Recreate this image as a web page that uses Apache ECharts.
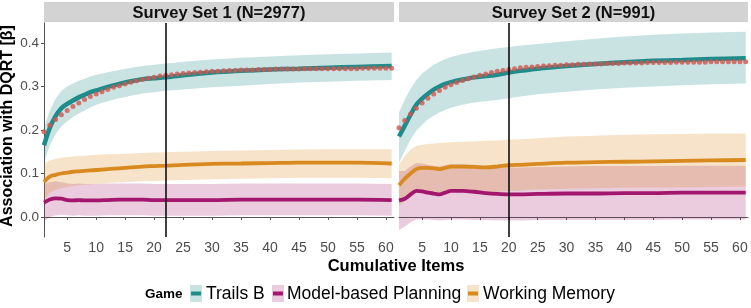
<!DOCTYPE html>
<html><head><meta charset="utf-8">
<script src="https://cdn.jsdelivr.net/npm/echarts@6/dist/echarts.min.js"></script>
<style>html,body{margin:0;padding:0;background:#fff}#c{width:751px;height:308px}</style>
</head><body><div id="c"></div>
<script>
// ---------- data ----------
const panels = ['Survey Set 1 (N=2977)', 'Survey Set 2 (N=991)'];
const cutoffs = [22, 20];
const games = ['Trails B', 'Model-based Planning', 'Working Memory'];
const xTicks = [5, 10, 15, 20, 25, 30, 35, 40, 45, 50, 55, 60];
const yTicks = [0, 0.1, 0.2, 0.3, 0.4];
const knots = [1,2,3,4,5,6,7,8,9,10,12,14,16,18,20,22,25,30,35,40,45,50,55,61];
const items = [1,2,3,4,5,6,7,8,9,10,11,12,13,14,15,16,17,18,19,20,21,22,23,24,25,26,27,28,29,30,
  31,32,33,34,35,36,37,38,39,40,41,42,43,44,45,46,47,48,49,50,51,52,53,54,55,56,57,58,59,60,61];

// Survey Set 1
const trails1     = [0.165,0.205,0.232,0.250,0.260,0.268,0.275,0.281,0.287,0.291,0.299,0.306,0.312,0.317,0.319,0.321,0.326,0.332,0.336,0.339,0.341,0.343,0.345,0.347];
const trails1Lo   = [0.125,0.165,0.190,0.208,0.220,0.230,0.238,0.245,0.252,0.258,0.266,0.273,0.279,0.284,0.287,0.290,0.293,0.298,0.302,0.306,0.309,0.311,0.313,0.315];
const trails1Hi   = [0.205,0.245,0.272,0.290,0.300,0.307,0.313,0.318,0.323,0.327,0.333,0.338,0.343,0.347,0.350,0.353,0.357,0.362,0.366,0.369,0.372,0.374,0.376,0.378];
const model1      = [0.033,0.040,0.043,0.042,0.039,0.038,0.039,0.038,0.038,0.038,0.039,0.040,0.040,0.040,0.039,0.039,0.039,0.039,0.040,0.040,0.040,0.040,0.040,0.039];
const model1Lo    = [-0.010,0.000,0.004,0.005,0.004,0.003,0.004,0.003,0.003,0.003,0.004,0.004,0.004,0.004,0.003,0.003,0.003,0.003,0.004,0.004,0.004,0.004,0.004,0.003];
const model1Hi    = [0.076,0.080,0.082,0.080,0.077,0.076,0.077,0.076,0.076,0.076,0.077,0.077,0.077,0.077,0.076,0.076,0.076,0.076,0.077,0.077,0.077,0.077,0.077,0.076];
const memory1     = [0.081,0.093,0.097,0.100,0.102,0.104,0.105,0.106,0.107,0.108,0.110,0.112,0.114,0.116,0.117,0.118,0.120,0.122,0.123,0.124,0.125,0.125,0.125,0.123];
const memory1Lo   = [0.040,0.056,0.062,0.066,0.069,0.071,0.073,0.074,0.075,0.076,0.078,0.080,0.081,0.082,0.083,0.084,0.085,0.087,0.088,0.089,0.090,0.090,0.090,0.089];
const memory1Hi   = [0.122,0.130,0.134,0.136,0.138,0.139,0.140,0.141,0.142,0.143,0.144,0.145,0.146,0.147,0.148,0.149,0.150,0.152,0.153,0.154,0.155,0.156,0.156,0.156];
const dqrt1 = [0.196,0.211,0.224,0.235,0.245,0.254,0.262,0.270,0.277,0.283,0.288,0.293,0.298,0.302,0.306,0.310,0.313,0.316,0.319,0.321,
  0.324,0.326,0.327,0.329,0.330,0.331,0.332,0.333,0.334,0.335,0.335,0.336,0.337,0.337,0.338,0.338,0.338,0.339,0.339,0.339,
  0.340,0.340,0.340,0.340,0.340,0.341,0.341,0.341,0.341,0.341,0.341,0.341,0.341,0.341,0.341,0.342,0.342,0.342,0.342,0.342,0.342];

// Survey Set 2
const trails2     = [0.185,0.210,0.235,0.258,0.272,0.283,0.293,0.300,0.306,0.310,0.316,0.321,0.324,0.327,0.332,0.336,0.341,0.347,0.352,0.356,0.359,0.361,0.363,0.365];
const trails2Lo   = [0.125,0.152,0.178,0.198,0.212,0.224,0.233,0.240,0.246,0.251,0.258,0.263,0.266,0.269,0.273,0.277,0.282,0.288,0.293,0.297,0.300,0.303,0.305,0.307];
const trails2Hi   = [0.240,0.270,0.295,0.315,0.330,0.340,0.350,0.357,0.363,0.368,0.375,0.380,0.384,0.388,0.391,0.394,0.398,0.404,0.410,0.415,0.419,0.422,0.424,0.426];
const model2      = [0.038,0.042,0.052,0.060,0.059,0.056,0.054,0.052,0.056,0.060,0.060,0.058,0.055,0.053,0.052,0.052,0.053,0.054,0.054,0.055,0.055,0.056,0.056,0.056];
const model2Lo    = [-0.030,-0.022,-0.012,-0.006,-0.006,-0.006,-0.007,-0.008,-0.007,-0.006,-0.006,-0.007,-0.007,-0.008,-0.008,-0.008,-0.007,-0.007,-0.007,-0.007,-0.007,-0.006,-0.006,-0.006];
const model2Hi    = [0.106,0.106,0.116,0.124,0.123,0.120,0.118,0.116,0.119,0.122,0.122,0.120,0.117,0.115,0.114,0.114,0.115,0.116,0.117,0.117,0.117,0.118,0.118,0.118];
const memory2     = [0.073,0.088,0.100,0.110,0.113,0.113,0.112,0.110,0.113,0.116,0.116,0.115,0.114,0.116,0.119,0.120,0.122,0.125,0.126,0.127,0.128,0.129,0.130,0.131];
const memory2Lo   = [0.026,0.036,0.045,0.055,0.060,0.058,0.056,0.052,0.055,0.058,0.058,0.057,0.056,0.058,0.060,0.061,0.063,0.065,0.066,0.067,0.068,0.068,0.069,0.070];
const memory2Hi   = [0.120,0.140,0.155,0.163,0.166,0.168,0.169,0.170,0.171,0.172,0.173,0.174,0.175,0.176,0.178,0.179,0.181,0.185,0.187,0.189,0.190,0.191,0.192,0.192];
const dqrt2 = [0.205,0.222,0.237,0.250,0.262,0.273,0.283,0.291,0.298,0.304,0.309,0.314,0.318,0.322,0.326,0.329,0.332,0.335,0.337,0.339,
  0.341,0.343,0.344,0.345,0.346,0.347,0.348,0.349,0.349,0.350,0.350,0.351,0.351,0.352,0.352,0.352,0.353,0.353,0.353,0.354,
  0.354,0.354,0.354,0.355,0.355,0.355,0.355,0.355,0.356,0.356,0.356,0.356,0.356,0.356,0.357,0.357,0.357,0.357,0.357,0.357,0.357];

// ---------- styling ----------
const lineColors = ['#1E8C8A', '#A3166E', '#D98A1F'];
const bandColors = ['rgba(30,140,138,0.24)', 'rgba(163,22,110,0.22)', 'rgba(217,138,31,0.24)'];
const dotColor = '#D4554F';
const FONT = '"Liberation Sans", Arial, Helvetica, sans-serif';

const panelData = [
  { lines: [trails1, model1, memory1], lo: [trails1Lo, model1Lo, memory1Lo], hi: [trails1Hi, model1Hi, memory1Hi], dots: dqrt1 },
  { lines: [trails2, model2, memory2], lo: [trails2Lo, model2Lo, memory2Lo], hi: [trails2Hi, model2Hi, memory2Hi], dots: dqrt2 }
];

const grids = [
  { left: 44, width: 350, top: 23, height: 214 },
  { left: 399, width: 349, top: 23, height: 214 }
];

function bandSeries(p, xs, lo, hi, color) {
  return {
    type: 'custom', xAxisIndex: p, yAxisIndex: p, silent: true, z: 1, clip: true,
    data: xs.map((x, k) => [x, lo[k], hi[k]]),
    encode: { x: 0, y: [1, 2] },
    renderItem: (params, api) => {
      if (params.dataIndex !== 0) return null;
      const top = xs.map((x, k) => api.coord([x, hi[k]]));
      const bot = xs.map((x, k) => api.coord([x, lo[k]])).reverse();
      return { type: 'polygon', shape: { points: top.concat(bot) }, style: { fill: color } };
    }
  };
}

const xAxes = [], yAxes = [], series = [];
panelData.forEach((pd, p) => {
  xAxes.push({
    type: 'value', gridIndex: p, min: 1, max: 61.4,
    axisLine: { show: true, lineStyle: { color: '#555', width: 1 } },
    axisTick: { show: true, length: 3, customValues: xTicks, lineStyle: { color: '#555' } },
    axisLabel: { customValues: xTicks, fontSize: 14, color: '#4d4d4d', margin: 4, fontFamily: FONT },
    splitLine: { show: false }
  });
  yAxes.push({
    type: 'value', gridIndex: p, min: -0.046, max: 0.446,
    axisLine: { show: p === 0, lineStyle: { color: '#555', width: 1 } },
    axisTick: { show: p === 0, length: 3, customValues: yTicks, lineStyle: { color: '#555' } },
    axisLabel: { show: p === 0, customValues: yTicks, fontSize: 13.5, color: '#4d4d4d', margin: 5,
      fontFamily: FONT, formatter: v => v.toFixed(1) },
    splitLine: { show: false }
  });
  games.forEach((g, i) => series.push(bandSeries(p, knots, pd.lo[i], pd.hi[i], bandColors[i])));
  games.forEach((g, i) => {
    series.push({
      name: g, type: 'line', xAxisIndex: p, yAxisIndex: p,
      data: knots.map((x, k) => [x, pd.lines[i][k]]),
      symbol: 'none', smooth: 0.3,
      lineStyle: { color: lineColors[i], width: i === 0 ? 4.5 : 3.8 }, z: 3
    });
  });
  series.push({
    type: 'scatter', xAxisIndex: p, yAxisIndex: p,
    data: items.map((x, k) => [x, pd.dots[k]]),
    symbolSize: 5, itemStyle: { color: dotColor }, z: 4, silent: true,
    markLine: {
      silent: true, symbol: ['none', 'none'], label: { show: false }, animation: false,
      data: [
        { yAxis: 0, lineStyle: { color: '#555', width: 1, type: [3, 3] } },
        { xAxis: cutoffs[p], lineStyle: { color: '#000', width: 1.5, type: 'solid' } }
      ]
    }
  });
});

// ---------- graphics: strips, titles, legend ----------
const graphic = [];
panels.forEach((t, p) => {
  graphic.push({ type: 'rect', shape: { x: grids[p].left, y: 2, width: grids[p].width, height: 20 },
    style: { fill: '#D3D3D3' }, silent: true });
  graphic.push({ type: 'text', x: grids[p].left + grids[p].width / 2, y: 13,
    style: { text: t, font: 'bold 16.5px ' + FONT, fill: '#111', textAlign: 'center', textVerticalAlign: 'middle' } });
});
graphic.push({ type: 'text', x: 396, y: 266,
  style: { text: 'Cumulative Items', font: 'bold 16.5px ' + FONT, fill: '#000', textAlign: 'center', textVerticalAlign: 'middle' } });
graphic.push({ type: 'text', x: 8, y: 126, rotation: Math.PI / 2,
  style: { text: 'Association with DQRT [β]', font: 'bold 16px ' + FONT, fill: '#000', textAlign: 'center', textVerticalAlign: 'middle' } });
graphic.push({ type: 'text', x: 145, y: 294,
  style: { text: 'Game', font: 'bold 13.5px ' + FONT, fill: '#000', textAlign: 'left', textVerticalAlign: 'middle' } });
const legIconX = [190, 272, 467];
const legTextX = [206, 287, 483];
games.forEach((g, i) => {
  graphic.push({ type: 'rect', shape: { x: legIconX[i], y: 285, width: 12, height: 17 }, style: { fill: bandColors[i] } });
  graphic.push({ type: 'rect', shape: { x: legIconX[i] + 1, y: 291.5, width: 10, height: 4 }, style: { fill: lineColors[i] } });
  graphic.push({ type: 'text', x: legTextX[i], y: 294,
    style: { text: g, font: '17.5px ' + FONT, fill: '#000', textAlign: 'left', textVerticalAlign: 'middle' } });
});

const chart = echarts.init(document.getElementById('c'), null, { renderer: 'canvas' });
chart.setOption({
  animation: false,
  backgroundColor: '#fff',
  textStyle: { fontFamily: FONT },
  grid: grids,
  xAxis: xAxes,
  yAxis: yAxes,
  series,
  graphic
});
</script>
</body></html>
